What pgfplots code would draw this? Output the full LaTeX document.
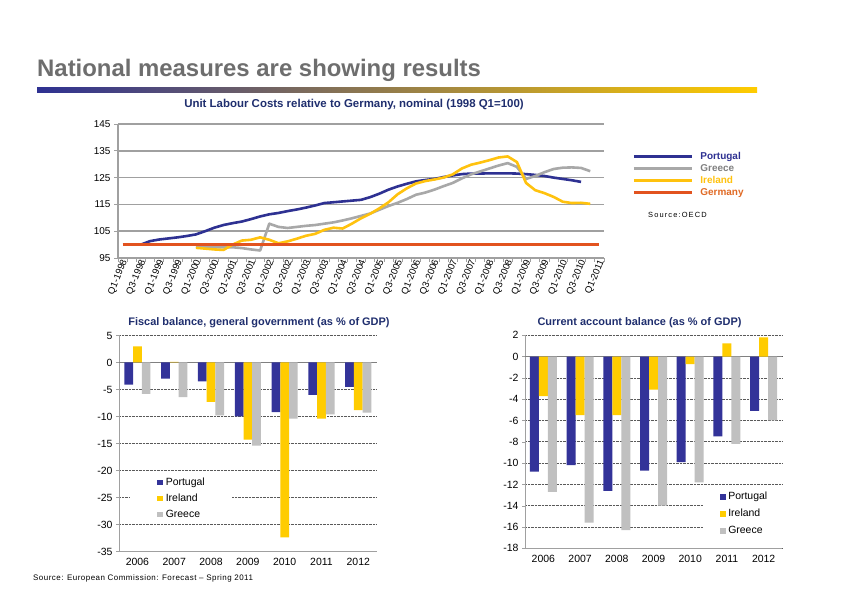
\documentclass[border=0pt]{standalone}
\usepackage{fontspec}
\setmainfont{Liberation Sans}
\usepackage{pgfplots}
\pgfplotsset{compat=1.18}

\definecolor{ptnavy}{HTML}{2E3192}
\definecolor{grgray}{HTML}{A8A8A8}
\definecolor{ieyellow}{HTML}{FFC20E}
\definecolor{deorange}{HTML}{E2531F}
\definecolor{titlenavy}{HTML}{1F2E6E}
\definecolor{titlegray}{HTML}{6E6E6E}
\definecolor{barnavy}{HTML}{333399}
\definecolor{baryellow}{HTML}{FFCC00}
\definecolor{bargray}{HTML}{C0C0C0}
\definecolor{gridgray}{HTML}{A0A0A0}
\definecolor{legorange}{HTML}{E06A25}
\definecolor{leggray}{HTML}{808080}

\pgfplotsset{
  sqlegend/.style={legend image code/.code={\fill[##1] (0bp,-2.8bp) rectangle (5.6bp,2.8bp);}},
  linelegend/.style={legend image code/.code={\draw[##1,line width=3bp] (0bp,0bp) -- (58bp,0bp);}},
}

\begin{document}
\begin{tikzpicture}
\path[fill=white,use as bounding box] (0,0) rectangle (842bp,596bp);

% headline and gradient rule
\node[anchor=base west,inner sep=0pt,text=titlegray,
      font=\fontsize{24}{24}\selectfont\bfseries] at (37bp,519.5bp)
      {National measures are showing results};
\shade[left color=ptnavy,right color=baryellow] (37bp,503bp) rectangle (757bp,508bp);

\node[inner sep=0pt,text=titlenavy,font=\fontsize{11.5}{13}\selectfont\bfseries]
      at (354bp,491bp) {Unit Labour Costs relative to Germany, nominal (1998 Q1=100)};
\node[anchor=west,inner sep=0pt,font=\fontsize{7.5}{8}\selectfont\addfontfeatures{LetterSpace=15}]
      at (648bp,381bp) {Source:OECD};

\node[inner sep=0pt,text=titlenavy,font=\fontsize{11}{12}\selectfont\bfseries]
      at (259bp,273bp) {Fiscal balance, general government (as \% of GDP)};
\node[inner sep=0pt,text=titlenavy,font=\fontsize{11}{12}\selectfont\bfseries]
      at (639.5bp,273bp) {Current account balance (as \% of GDP)};
\node[anchor=west,inner sep=0pt,font=\fontsize{8}{9}\selectfont\addfontfeatures{LetterSpace=6}]
      at (33bp,18bp) {Source: European Commission: Forecast – Spring 2011};

% ---------- unit labour costs ----------
\begin{axis}[
  at={(118bp,338bp)}, anchor=south west,
  scale only axis, width=486bp, height=134bp,
  xmin=-0.5, xmax=52.5, ymin=95, ymax=145,
  axis lines*=left,
  axis line style={gridgray,line width=1.2bp},
  ytick={95,105,...,145},
  ymajorgrids,
  major grid style={gridgray,line width=1.6bp},
  xtick={-0.5,0.5,...,52.5},
  xticklabels={},
  extra x ticks={0,2,...,52},
  extra x tick labels={Q1-1998,Q3-1998,Q1-1999,Q3-1999,Q1-2000,Q3-2000,Q1-2001,Q3-2001,Q1-2002,Q3-2002,Q1-2003,Q3-2003,Q1-2004,Q3-2004,Q1-2005,Q3-2005,Q1-2006,Q3-2006,Q1-2007,Q3-2007,Q1-2008,Q3-2008,Q1-2009,Q3-2009,Q1-2010,Q3-2010,Q1-2011},
  extra x tick style={major tick length=0pt},
  tick align=outside,
  major tick length=4bp,
  tick style={gridgray,line width=0.8bp},
  tick label style={font=\fontsize{10}{11}\selectfont},
  x tick label style={rotate=68,anchor=east,inner sep=1bp,yshift=-3bp,
    font=\fontsize{9.5}{10}\selectfont},
  /pgf/number format/assume math mode=true,
  every axis plot/.append style={line width=2.6bp,line join=round},
  legend style={at={(1.058,0.795)},anchor=north west,draw=none,fill=none,inner sep=0pt,
    font=\fontsize{10}{12}\selectfont\bfseries,
    nodes={inner sep=0pt,text height=7.5bp,text depth=2bp},
    row sep=2.5bp,
    /tikz/every odd column/.append style={column sep=7bp}},
  legend cell align=left,
  linelegend,
]
\addplot[ptnavy] coordinates {
  (2,100.0) (3,101.3) (4,101.9) (5,102.3) (6,102.7) (7,103.2) (8,103.8) (9,105.0)
  (10,106.3) (11,107.3) (12,108.0) (13,108.6) (14,109.5) (15,110.5) (16,111.3)
  (17,111.8) (18,112.5) (19,113.1) (20,113.8) (21,114.6) (22,115.5) (23,115.8)
  (24,116.1) (25,116.4) (26,116.7) (27,117.7) (28,119.0) (29,120.5) (30,121.7)
  (31,122.7) (32,123.6) (33,124.1) (34,124.5) (35,125.2) (36,125.8) (37,126.3)
  (38,126.5) (39,126.5) (40,126.6) (41,126.6) (42,126.6) (43,126.5) (44,126.3)
  (45,126.0) (46,125.6) (47,125.0) (48,124.5) (49,124.0) (50,123.4)
};
\addlegendentry{\textcolor{ptnavy}{Portugal}}
\addplot[grgray] coordinates {
  (8,99.3) (9,99.2) (10,99.0) (11,99.0) (12,99.0) (13,98.7) (14,98.2) (15,97.8)
  (16,107.8) (17,106.6) (18,106.2) (19,106.6) (20,107.0) (21,107.3) (22,107.8)
  (23,108.3) (24,109.0) (25,109.8) (26,110.7) (27,111.6) (28,113.0) (29,114.4)
  (30,115.6) (31,117.0) (32,118.6) (33,119.4) (34,120.5) (35,121.8) (36,123.0)
  (37,124.7) (38,126.2) (39,127.3) (40,128.4) (41,129.5) (42,130.4) (43,129.0)
  (44,124.5) (45,125.6) (46,127.0) (47,128.2) (48,128.7) (49,128.8) (50,128.6)
  (51,127.4)
};
\addlegendentry{\textcolor{leggray}{Greece}}
\addplot[ieyellow] coordinates {
  (8,98.8) (9,98.5) (10,98.2) (11,98.0) (12,100.0) (13,101.5) (14,101.8) (15,102.7)
  (16,101.8) (17,100.5) (18,101.2) (19,102.2) (20,103.3) (21,104.0) (22,105.5)
  (23,106.3) (24,106.0) (25,107.8) (26,109.8) (27,111.5) (28,113.5) (29,115.8)
  (30,118.8) (31,121.0) (32,122.8) (33,123.7) (34,124.3) (35,125.0) (36,126.2)
  (37,128.4) (38,129.8) (39,130.6) (40,131.5) (41,132.5) (42,132.9) (43,130.8)
  (44,123.0) (45,120.3) (46,119.2) (47,117.8) (48,116.0) (49,115.5) (50,115.6)
  (51,115.2)
};
\addlegendentry{\textcolor{ieyellow}{Ireland}}
\addplot[deorange] coordinates {(0,100) (52,100)};
\addlegendentry{\textcolor{legorange}{Germany}}
\end{axis}

% ---------- fiscal balance ----------
\begin{axis}[
  at={(119bp,44.5bp)}, anchor=south west,
  scale only axis, width=257.7bp, height=216bp,
  ybar=0pt, bar width=8.7bp,
  xmin=-0.5, xmax=6.5, ymin=-35, ymax=5,
  xtick={0,...,6}, xticklabels={2006,2007,2008,2009,2010,2011,2012},
  ytick={-35,-30,...,5},
  axis lines*=left,
  axis line style={gridgray,line width=0.8bp},
  ymajorgrids,
  major grid style={densely dotted,black!65,line width=0.6bp},
  extra y ticks={0}, extra y tick labels={},
  extra y tick style={major grid style={solid,gray,line width=0.9bp}},
  tick align=outside, major tick length=3bp,
  ytick style={gridgray},
  xtick style={draw=none},
  tick label style={font=\fontsize{10.5}{11}\selectfont},
  /pgf/number format/assume math mode=true,
  legend style={at={(0.0427,0.3588)},anchor=north west,draw=none,fill=white,
    inner xsep=27bp,inner ysep=3.5bp,
    font=\fontsize{10.5}{12}\selectfont,
    nodes={inner sep=0pt,text height=8bp,text depth=2bp},
    row sep=6bp,
    /tikz/every odd column/.append style={column sep=3bp}},
  legend cell align=left,
]
\addplot[fill=barnavy,draw=none,sqlegend]
  coordinates {(0,-4.1) (1,-3.0) (2,-3.5) (3,-10.0) (4,-9.2) (5,-6.0) (6,-4.5)};
\addlegendentry{Portugal}
\addplot[fill=baryellow,draw=none,sqlegend]
  coordinates {(0,3.0) (1,0.1) (2,-7.3) (3,-14.3) (4,-32.4) (5,-10.4) (6,-8.8)};
\addlegendentry{Ireland}
\addplot[fill=bargray,draw=none,sqlegend]
  coordinates {(0,-5.8) (1,-6.4) (2,-9.8) (3,-15.4) (4,-10.4) (5,-9.6) (6,-9.3)};
\addlegendentry{Greece}
\end{axis}

% ---------- current account ----------
\begin{axis}[
  at={(525bp,47.7bp)}, anchor=south west,
  scale only axis, width=257bp, height=213bp,
  ybar=0pt, bar width=9bp,
  xmin=-0.5, xmax=6.5, ymin=-18, ymax=2,
  xtick={0,...,6}, xticklabels={2006,2007,2008,2009,2010,2011,2012},
  ytick={-18,-16,...,2},
  axis lines*=left,
  axis line style={gridgray,line width=0.8bp},
  ymajorgrids,
  major grid style={densely dotted,black!65,line width=0.6bp},
  extra y ticks={0}, extra y tick labels={},
  extra y tick style={major grid style={solid,gray,line width=0.9bp}},
  tick align=outside, major tick length=3bp,
  ytick style={gridgray},
  xtick style={draw=none},
  tick label style={font=\fontsize{10.5}{11}\selectfont},
  /pgf/number format/assume math mode=true,
  legend style={at={(0.6926,0.283)},anchor=north west,draw=none,fill=white,
    inner xsep=17bp,inner ysep=3.5bp,
    font=\fontsize{10.5}{12}\selectfont,
    nodes={inner sep=0pt,text height=8bp,text depth=2bp},
    row sep=7bp,
    /tikz/every odd column/.append style={column sep=2.5bp}},
  legend cell align=left,
]
\addplot[fill=barnavy,draw=none,sqlegend]
  coordinates {(0,-10.8) (1,-10.2) (2,-12.6) (3,-10.7) (4,-9.9) (5,-7.5) (6,-5.1)};
\addlegendentry{Portugal}
\addplot[fill=baryellow,draw=none,sqlegend]
  coordinates {(0,-3.7) (1,-5.5) (2,-5.5) (3,-3.1) (4,-0.7) (5,1.25) (6,1.8)};
\addlegendentry{Ireland}
\addplot[fill=bargray,draw=none,sqlegend]
  coordinates {(0,-12.7) (1,-15.6) (2,-16.3) (3,-14.0) (4,-11.8) (5,-8.2) (6,-6.0)};
\addlegendentry{Greece}
\end{axis}
\end{tikzpicture}
\end{document}
